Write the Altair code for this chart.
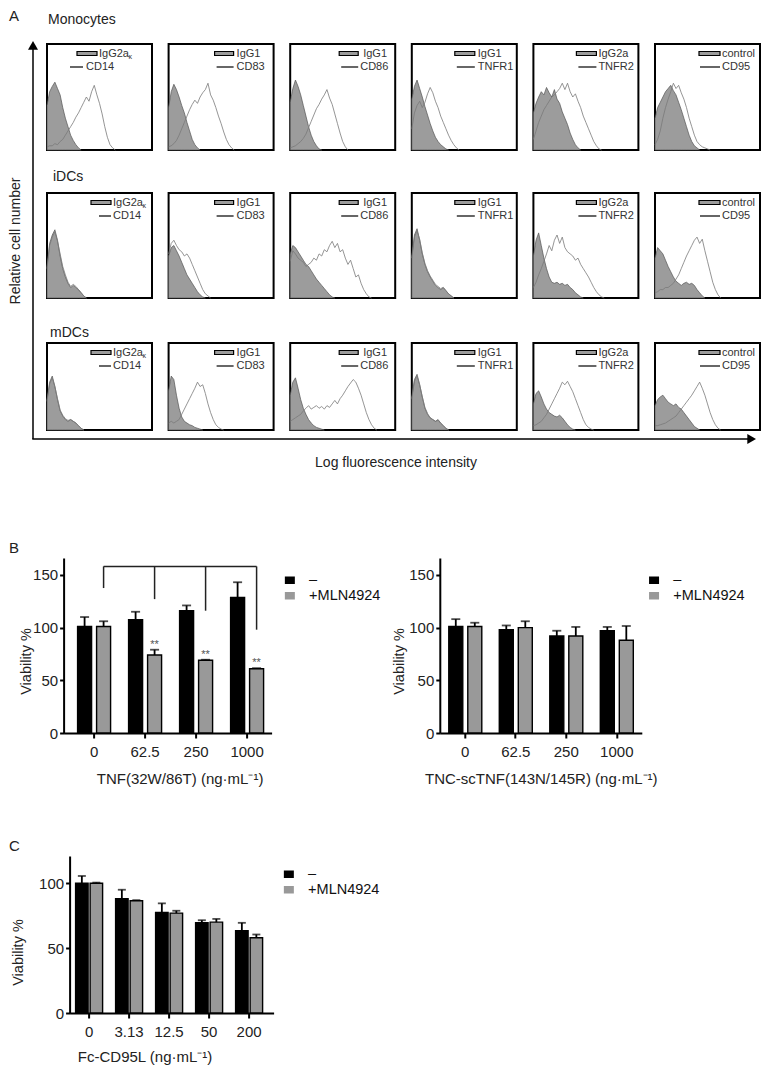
import altair as alt
import pandas as pd

FONT = "Liberation Sans"
INK = "#222222"

# ---------------- Panel A: flow-cytometry histograms ----------------
row_names = ["Monocytes", "iDCs", "mDCs"]
iso_labels = ["IgG2a", "IgG1", "IgG1", "IgG1", "IgG2a", "control"]
marker_labels = ["CD14", "CD83", "CD86", "TNFR1", "TNFR2", "CD95"]
bin_step = 2.5  # % of log-intensity axis per histogram bin

# heights in % of the panel box height, one value per bin
mono_cd14_iso = [42, 55, 60, 64, 58, 52, 40, 30, 22, 14, 9, 5, 2, 0]
mono_cd14_mk = [3, 4, 4, 6, 5, 8, 10, 14, 18, 22, 26, 31, 35, 40, 45, 50, 46, 55, 61, 52, 44, 34, 22, 12, 5, 2, 0]
mono_cd83_iso = [40, 55, 62, 57, 50, 42, 35, 26, 18, 10, 5, 2, 0]
mono_cd83_mk = [3, 4, 6, 9, 14, 20, 26, 32, 38, 43, 47, 44, 50, 54, 57, 63, 52, 47, 40, 32, 25, 17, 10, 5, 2, 0]
mono_cd86_iso = [45, 58, 66, 60, 52, 42, 32, 22, 14, 8, 4, 1, 0]
mono_cd86_mk = [2, 3, 4, 6, 8, 11, 15, 21, 27, 33, 39, 43, 48, 52, 57, 49, 43, 34, 25, 16, 8, 3, 0]
mono_tnfr1_iso = [48, 60, 66, 58, 50, 41, 33, 25, 18, 12, 8, 5, 3, 1, 0]
mono_tnfr1_mk = [20, 35, 42, 46, 40, 45, 53, 59, 54, 46, 40, 32, 26, 20, 14, 9, 5, 2, 0]
mono_tnfr2_iso = [35, 44, 50, 55, 52, 59, 54, 50, 57, 48, 44, 36, 30, 24, 16, 10, 5, 2, 0]
mono_tnfr2_mk = [10, 18, 26, 32, 38, 42, 46, 50, 52, 55, 58, 63, 57, 63, 55, 50, 53, 46, 40, 32, 26, 20, 14, 8, 4, 1, 0]
mono_cd95_iso = [30, 40, 45, 50, 55, 58, 61, 56, 52, 45, 38, 30, 22, 14, 8, 4, 2, 0]
mono_cd95_mk = [5, 10, 18, 30, 40, 48, 55, 63, 58, 61, 54, 48, 40, 30, 22, 14, 8, 5, 3, 2, 1, 0]

idc_cd14_iso = [30, 52, 60, 65, 55, 40, 28, 20, 14, 10, 12, 10, 8, 5, 2, 0]
idc_cd14_mk = [28, 50, 58, 63, 54, 42, 30, 22, 15, 11, 13, 11, 8, 5, 2, 0]
idc_cd83_iso = [40, 48, 50, 45, 40, 34, 28, 22, 18, 14, 10, 6, 3, 1, 0]
idc_cd83_mk = [42, 52, 55, 50, 46, 44, 40, 42, 38, 32, 26, 20, 14, 8, 4, 2, 0]
idc_cd86_iso = [42, 50, 48, 44, 40, 36, 32, 30, 26, 22, 18, 15, 12, 9, 6, 3, 1, 0]
idc_cd86_mk = [35, 45, 42, 38, 36, 34, 30, 32, 34, 38, 36, 42, 40, 46, 44, 50, 54, 48, 52, 44, 46, 38, 32, 36, 28, 20, 22, 14, 8, 4, 1, 0]
idc_tnfr1_iso = [40, 60, 66, 55, 42, 32, 25, 20, 16, 12, 10, 8, 10, 7, 4, 2, 0]
idc_tnfr1_mk = [38, 58, 64, 56, 43, 33, 26, 21, 17, 13, 11, 9, 10, 7, 4, 2, 0]
idc_tnfr2_iso = [40, 55, 62, 50, 38, 28, 20, 15, 14, 15, 13, 14, 12, 13, 10, 8, 5, 3, 1, 0]
idc_tnfr2_mk = [10, 15, 22, 28, 35, 42, 50, 45, 55, 60, 52, 58, 48, 44, 42, 40, 36, 38, 32, 28, 24, 20, 15, 10, 6, 3, 1, 0]
idc_cd95_iso = [38, 48, 45, 42, 36, 30, 25, 20, 16, 14, 12, 14, 15, 13, 14, 12, 8, 5, 2, 0]
idc_cd95_mk = [5, 6, 8, 8, 10, 10, 12, 14, 18, 22, 28, 34, 40, 45, 50, 55, 58, 52, 56, 45, 35, 25, 15, 8, 3, 0]

mdc_cd14_iso = [35, 55, 62, 50, 35, 22, 16, 12, 10, 12, 10, 8, 5, 2, 0]
mdc_cd14_mk = [33, 53, 60, 50, 36, 23, 17, 13, 11, 12, 10, 8, 5, 2, 0]
mdc_cd83_iso = [45, 62, 58, 40, 25, 15, 10, 8, 6, 5, 3, 2, 1, 0]
mdc_cd83_mk = [8, 10, 8, 10, 12, 18, 24, 30, 36, 42, 48, 55, 50, 52, 42, 30, 20, 12, 6, 3, 1, 0]
mdc_cd86_iso = [40, 55, 60, 48, 35, 25, 18, 12, 8, 5, 3, 2, 1, 0]
mdc_cd86_mk = [10, 12, 14, 16, 18, 22, 25, 28, 24, 26, 28, 25, 27, 24, 28, 26, 30, 34, 30, 36, 40, 45, 50, 54, 58, 55, 48, 40, 30, 20, 12, 6, 2, 0]
mdc_tnfr1_iso = [38, 58, 64, 52, 38, 25, 18, 14, 12, 10, 12, 8, 5, 2, 0]
mdc_tnfr1_mk = [36, 56, 62, 52, 38, 26, 19, 14, 12, 10, 11, 8, 5, 2, 0]
mdc_tnfr2_iso = [30, 42, 45, 38, 30, 24, 20, 18, 16, 15, 17, 14, 10, 6, 3, 1, 0]
mdc_tnfr2_mk = [5, 6, 8, 10, 14, 18, 24, 30, 36, 42, 48, 55, 52, 56, 50, 44, 36, 28, 20, 12, 6, 3, 1, 0]
mdc_cd95_iso = [28, 35, 38, 40, 36, 32, 30, 28, 30, 26, 24, 20, 16, 12, 8, 4, 2, 0]
mdc_cd95_mk = [5, 5, 6, 7, 8, 10, 12, 14, 16, 20, 24, 28, 32, 36, 40, 45, 50, 55, 48, 40, 30, 20, 12, 6, 2, 0]

hist_rows = [
    [(mono_cd14_iso, mono_cd14_mk), (mono_cd83_iso, mono_cd83_mk), (mono_cd86_iso, mono_cd86_mk),
     (mono_tnfr1_iso, mono_tnfr1_mk), (mono_tnfr2_iso, mono_tnfr2_mk), (mono_cd95_iso, mono_cd95_mk)],
    [(idc_cd14_iso, idc_cd14_mk), (idc_cd83_iso, idc_cd83_mk), (idc_cd86_iso, idc_cd86_mk),
     (idc_tnfr1_iso, idc_tnfr1_mk), (idc_tnfr2_iso, idc_tnfr2_mk), (idc_cd95_iso, idc_cd95_mk)],
    [(mdc_cd14_iso, mdc_cd14_mk), (mdc_cd83_iso, mdc_cd83_mk), (mdc_cd86_iso, mdc_cd86_mk),
     (mdc_tnfr1_iso, mdc_tnfr1_mk), (mdc_tnfr2_iso, mdc_tnfr2_mk), (mdc_cd95_iso, mdc_cd95_mk)],
]

# ---------------- Panel B / C: viability bars ----------------
treatments = ["–", "+MLN4924"]
tnf_doses = ["0", "62.5", "250", "1000"]
b1_ctrl_mean = [101, 107.5, 116, 128.5]
b1_ctrl_sd = [9, 7.5, 5, 14.5]
b1_mln_mean = [101, 74, 69, 61]
b1_mln_sd = [5, 5, 0.5, 0.5]
b1_stars = ["", "**", "**", "**"]
b1_bracket_level = 158
b1_bracket_ends = [137.5, 127, 116, 98]

b2_ctrl_mean = [101, 98, 92, 97]
b2_ctrl_sd = [7, 4, 5, 3.6]
b2_mln_mean = [101, 100, 92, 88]
b2_mln_sd = [3.6, 6, 8.6, 13.5]

cd95_doses = ["0", "3.13", "12.5", "50", "200"]
c_ctrl_mean = [100, 88, 77.5, 69.5, 63.5]
c_ctrl_sd = [5.6, 7, 7, 2, 6]
c_mln_mean = [100, 86.5, 77, 70, 58]
c_mln_sd = [0.5, 0.5, 1.8, 2.5, 2.5]

# ---------------- helpers ----------------
one = pd.DataFrame({"k": [0]})
COL_GAP = 16.6
PANEL_W = 105
STRIP_W = 38
ARROW_X = 24
BGAP = 15.6


def txt(t, x, y, **kw):
    opts = dict(align="left", baseline="middle", fontSize=14, color=INK)
    opts.update(kw)
    return alt.Chart(one).mark_text(**opts).encode(
        x=alt.value(x), y=alt.value(y), text=alt.value(t))


def dot(w, h):
    return alt.Chart(one).mark_point(opacity=0).encode(x=alt.value(w / 2), y=alt.value(h / 2))


def blank(w, h):
    return dot(w, h).properties(width=w, height=h)


# legend geometry per column: rect x1,x2, iso text x, line x1,x2, marker text x
leg_geo = {
    0: (44, 64, 66, 52, 64, 66),
    1: (46, 65, 68, 48, 65, 68),
    2: (49, 68, 73, 51, 68, 70),
    3: (43, 63, 66, 45, 63, 66),
    4: (43, 63, 65, 45, 63, 65),
    5: (44, 65, 67, 45, 65, 67),
}
leg_geo_row0_col0 = (30, 50, 52, 23, 36, 39)


def hist_panel(r, c, iso_vals, mk_vals, h):
    iso_df = pd.DataFrame({"x": [i * bin_step for i in range(len(iso_vals))], "v": iso_vals})
    mk_df = pd.DataFrame({"x": [i * bin_step for i in range(len(mk_vals))], "v": mk_vals})
    xs = alt.X("x:Q", scale=alt.Scale(domain=[0, 100], nice=False, zero=False), axis=None)
    ys = alt.Y("v:Q", scale=alt.Scale(domain=[0, 100], nice=False), axis=None)
    area = alt.Chart(iso_df).mark_area(color="#9c9c9c", stroke="#555555", strokeWidth=0.7).encode(x=xs, y=ys)
    line = alt.Chart(mk_df).mark_line(color="#7a7a7a", strokeWidth=0.8).encode(x=xs, y=ys)
    geo = leg_geo_row0_col0 if (r == 0 and c == 0) else leg_geo[c]
    rx1, rx2, t1x, lx1, lx2, t2x = geo
    lab = pd.DataFrame({"iso": [iso_labels[c]], "mk": [marker_labels[c]]})
    rect = alt.Chart(lab).mark_rect(fill="#9c9c9c", stroke="black", strokeWidth=1.2).encode(
        x=alt.value(rx1), x2=alt.value(rx2), y=alt.value(7.5), y2=alt.value(11.5))
    seg = alt.Chart(lab).mark_rule(color="black", strokeWidth=1.2).encode(
        x=alt.value(lx1), x2=alt.value(lx2), y=alt.value(23))
    t1 = alt.Chart(lab).mark_text(align="left", baseline="middle", fontSize=11, color="#333").encode(
        x=alt.value(t1x), y=alt.value(9.5), text="iso:N")
    t2 = alt.Chart(lab).mark_text(align="left", baseline="middle", fontSize=11, color="#333").encode(
        x=alt.value(t2x), y=alt.value(23), text="mk:N")
    layers = [area, line, rect, seg, t1, t2]
    if c == 0:
        layers.append(txt("κ", t1x + 29.5, 12.5, fontSize=7, color="#333"))
    return alt.layer(*layers).properties(
        width=PANEL_W, height=h, view=alt.ViewBackground(stroke="black", strokeWidth=2))


def bar_panel(doses, ctrl_m, ctrl_sd, mln_m, mln_sd, width, height, ymax, yticks,
              xscale, offscale, xtitle, title_x, title_y, ytitle_x, ytitle_y, legend_xy, cap,
              stars=None, bracket=None):
    rows = []
    for i, d in enumerate(doses):
        rows.append(dict(dose=d, trt=treatments[0], mean=ctrl_m[i], upper=ctrl_m[i] + ctrl_sd[i]))
        rows.append(dict(dose=d, trt=treatments[1], mean=mln_m[i], upper=mln_m[i] + mln_sd[i]))
    df = pd.DataFrame(rows)
    xaxis = alt.Axis(title=xtitle, labelAngle=0, labelFontSize=15, labelColor=INK, labelPadding=6,
                     tickSize=5, tickWidth=2, tickColor="black", domainColor="black", domainWidth=2,
                     titleFontSize=15, titleFontWeight="normal", titleColor=INK, titleX=title_x,
                     titleY=title_y, titleBaseline="alphabetic", grid=False)
    x = alt.X("dose:N", sort=doses, scale=alt.Scale(domain=doses, **xscale), axis=xaxis)
    xo = alt.XOffset("trt:N", scale=alt.Scale(domain=treatments, **offscale))
    yaxis = alt.Axis(values=yticks, title="Viability %", grid=False, labelFontSize=15, labelColor=INK,
                     labelPadding=2, tickSize=4, tickWidth=2, tickColor="black", domainColor="black",
                     domainWidth=2, titleFontSize=14.5, titleFontWeight="normal", titleColor=INK,
                     titleAngle=270, titleBaseline="bottom", titleAlign="center",
                     titleX=ytitle_x, titleY=ytitle_y)

    def yenc(f):
        return alt.Y(f, scale=alt.Scale(domain=[0, ymax], nice=False), axis=yaxis)

    color = alt.Color("trt:N", scale=alt.Scale(domain=treatments, range=["#000000", "#999999"]),
                      legend=alt.Legend(orient="none", legendX=legend_xy[0], legendY=legend_xy[1],
                                        title=None, symbolType="M-1,-0.75H1V0.75H-1Z", symbolSize=100,
                                        symbolStrokeWidth=0, labelFontSize=14.5, labelColor="#111",
                                        labelOffset=12, rowPadding=0.5, padding=0))
    bars = alt.Chart(df).mark_bar(stroke="black", strokeWidth=1.4).encode(
        x=x, xOffset=xo, y=yenc("mean:Q"), color=color)
    err = alt.Chart(df).mark_rule(color="black", strokeWidth=1.8).encode(
        x=x, xOffset=xo, y=yenc("mean:Q"), y2="upper:Q")
    caps = alt.Chart(df).mark_tick(color="black", thickness=1.8, size=cap).encode(
        x=x, xOffset=xo, y=yenc("upper:Q"))
    layers = [bars, err, caps]
    if stars is not None:
        sdf = df[df.trt == treatments[1]].copy()
        sdf["star"] = stars
        sdf = sdf[sdf.star != ""]
        layers.append(alt.Chart(sdf).mark_text(fontSize=11, color="#555555", baseline="middle", dy=-5).encode(
            x=x, xOffset=xo, y=yenc("upper:Q"), text="star:N"))
    if bracket is not None:
        level, ends = bracket
        bdf = pd.DataFrame({"dose": doses, "trt": [treatments[1]] * len(doses),
                            "level": [level] * len(doses), "end": ends})
        layers.append(alt.Chart(bdf).mark_line(color=INK, strokeWidth=1.5).encode(
            x=x, xOffset=xo, y=yenc("level:Q")))
        layers.append(alt.Chart(bdf).mark_rule(color=INK, strokeWidth=1.5).encode(
            x=x, xOffset=xo, y=yenc("level:Q"), y2="end:Q"))
    return alt.layer(*layers).properties(width=width, height=height)


B1 = bar_panel(tnf_doses, b1_ctrl_mean, b1_ctrl_sd, b1_mln_mean, b1_mln_sd, 208, 175, 166, [0, 50, 100, 150],
               dict(paddingInner=0.353, paddingOuter=0.2156, align=0.636),
               dict(paddingInner=0.263, paddingOuter=0),
               "TNF(32W/86T) (ng·mL⁻¹)", 116, 50, -30, 103, (219, 15), 9,
               stars=b1_stars, bracket=(b1_bracket_level, b1_bracket_ends))
B2 = bar_panel(tnf_doses, b2_ctrl_mean, b2_ctrl_sd, b2_mln_mean, b2_mln_sd, 202, 175, 166, [0, 50, 100, 150],
               dict(paddingInner=0.3465, paddingOuter=0.173, align=0.514),
               dict(paddingInner=0.263, paddingOuter=0),
               "TNC-scTNF(143N/145R) (ng·mL⁻¹)", 101, 50, -33, 103, (207, 15), 9)
Cc = bar_panel(cd95_doses, c_ctrl_mean, c_ctrl_sd, c_mln_mean, c_mln_sd, 204, 157, 121, [0, 50, 100],
               dict(paddingInner=0.325, paddingOuter=0.2125, align=0.353),
               dict(paddingInner=0.138, paddingOuter=0),
               "Fc-CD95L (ng·mL⁻¹)", 75, 48, -44, 96, (212, 11), 8)

# ---------------- panel A grid (6 columns of unit cells) ----------------
row_heights = [106, 105, 87]
hdr_h = [35, 43, 45]
hdr_text_pos = [(1, 11), (6, 27), (3, 35)]
BOT_H = 47
cellsA = []
for r in range(3):
    tx, ty = hdr_text_pos[r]
    cellsA.append(alt.layer(txt(row_names[r], tx, ty)).properties(width=PANEL_W, height=hdr_h[r]))
    cellsA += [blank(PANEL_W, hdr_h[r]) for _ in range(5)]
    cellsA += [hist_panel(r, c, hist_rows[r][c][0], hist_rows[r][c][1], row_heights[r]) for c in range(6)]
TIP = 755 - 8 - STRIP_W  # arrow tip, relative to first histogram column
cellsA.append(alt.layer(
    alt.Chart(one).mark_rule(color="black", strokeWidth=1.5).encode(
        x=alt.value(0), x2=alt.value(TIP - 6), y=alt.value(9)),
    alt.Chart(one).mark_point(shape="triangle-right", filled=True, size=100, color="black", opacity=1).encode(
        x=alt.value(TIP - 4.33), y=alt.value(9)),
    txt("Log fluorescence intensity", 349, 33, align="center"),
).properties(width=PANEL_W, height=BOT_H))
cellsA += [blank(PANEL_W, BOT_H) for _ in range(5)]
gridA = alt.concat(*cellsA, columns=6, spacing=alt.RowColnumber(row=0, column=COL_GAP), bounds="flush")

A_H = sum(hdr_h) + sum(row_heights) + BOT_H
leftA = alt.layer(
    txt("A", 0, 0, baseline="top", fontSize=15),
    alt.Chart(one).mark_rule(color="black", strokeWidth=1.5).encode(
        x=alt.value(ARROW_X), y=alt.value(38), y2=alt.value(A_H - BOT_H + 9)),
    alt.Chart(one).mark_rule(color="black", strokeWidth=1.5).encode(
        x=alt.value(ARROW_X - 0.75), x2=alt.value(STRIP_W), y=alt.value(A_H - BOT_H + 9)),
    alt.Chart(one).mark_point(shape="triangle-up", filled=True, size=100, color="black", opacity=1).encode(
        x=alt.value(ARROW_X), y=alt.value(36.3)),
    txt("Relative cell number", 7, 232, align="center", angle=270),
).properties(width=STRIP_W, height=A_H)

sectionA = alt.hconcat(leftA, gridA, spacing=0, bounds="flush")

spAB = alt.layer(txt("B", 0, 69, fontSize=15)).properties(width=STRIP_W, height=60)
sectionB = alt.hconcat(blank(54 - BGAP, 175), B1, blank(430 - 54 - 208 - 2 * BGAP, 175), B2,
                       spacing=BGAP, bounds="flush").resolve_scale(color="independent", xOffset="independent")
spBC = alt.layer(txt("C", 0, 58, fontSize=15)).properties(width=STRIP_W, height=60)
sectionC = alt.hconcat(blank(60 - BGAP, 157), Cc, spacing=BGAP, bounds="flush").resolve_scale(
    color="independent", xOffset="independent")

chart = alt.vconcat(sectionA, spAB, sectionB, spBC, sectionC, spacing=0).resolve_scale(
    color="independent", xOffset="independent"
).properties(padding=0).configure(font=FONT).configure_view(stroke="transparent")

chart.save("out.html", embed_options={"renderer": "svg", "actions": False})
